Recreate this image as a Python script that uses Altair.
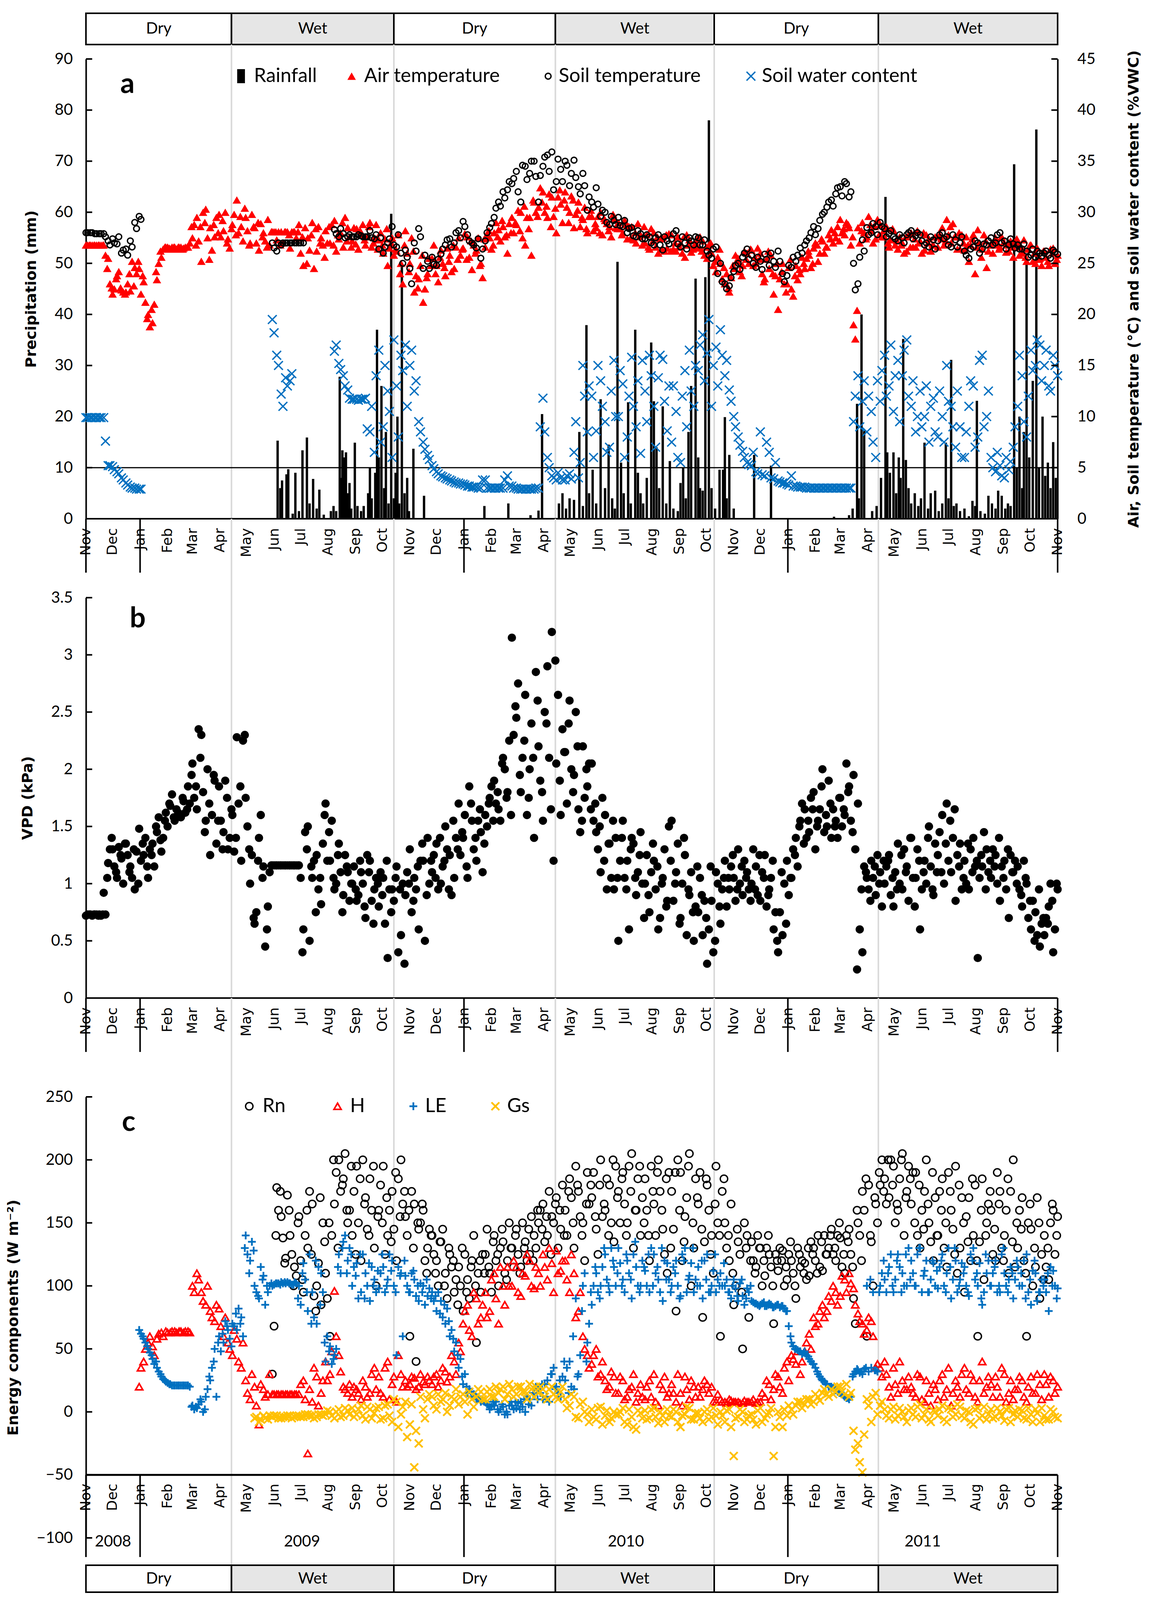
import altair as alt
import pandas as pd
from datetime import date

START = date(2008, 11, 1)


def day_of(y, m, d):
    return (date(y, m, d) - START).days


N_DAYS = day_of(2011, 11, 1)
STEP = 5      # "*_a" read at days 0,5,10,... ; "*_b" at days 2,7,12,... ; "*_c" at days 4,9,14,...
OFFSET_B = 2
OFFSET_C = 4

# ---------------- categories / labels ----------------
season_names = ["Dry", "Wet", "Dry", "Wet", "Dry", "Wet"]
season_starts = ["2008-11-01", "2009-04-14", "2009-10-14", "2010-04-14", "2010-10-10", "2011-04-13"]
month_labels = ["Nov", "Dec", "Jan", "Feb", "Mar", "Apr", "May", "Jun", "Jul", "Aug", "Sep", "Oct"] * 3 + ["Nov"]
year_labels = ["2008", "2009", "2010", "2011"]
ticks_a_left = [0, 10, 20, 30, 40, 50, 60, 70, 80, 90]
ticks_a_right = [0, 5, 10, 15, 20, 25, 30, 35, 40, 45]
ticks_b = [0, 0.5, 1, 1.5, 2, 2.5, 3, 3.5]
ticks_c = [-100, -50, 0, 50, 100, 150, 200, 250]
ref_line_mm = [10]

# ---------------- panel a ----------------
air_a = [
    26.8, 26.8, 26.8, 26.8, 26.8, 25.5, 22.0, 23.8, 22.4, 22.2, 22.3, 24.6,
    24.5, 23.2, 20.0, 19.2, 23.4, 25.6, 26.6, 26.4, 26.6, 26.6, 26.5, 26.6,
    27.5, 29.5, 25.2, 30.3, 28.5, 27.6, 29.8, 28.2, 27.4, 28.8, 31.2, 28.6,
    29.5, 27.0, 28.5, 26.3, 28.0, 29.3, 28.1, 27.3, 28.1, 28.1, 26.5, 28.1,
    28.8, 24.8, 27.5, 29.0, 26.2, 27.5, 28.2, 27.0, 29.2, 27.4, 26.6, 28.5,
    27.2, 28.4, 27.8, 26.8, 29.0, 27.5, 27.3, 26.0, 24.8, 27.5, 26.2, 25.0,
    28.2, 25.0, 22.2, 23.5, 21.2, 24.0, 25.5, 24.8, 26.3, 23.8, 25.8, 24.5,
    27.5, 26.5, 27.6, 24.4, 26.3, 25.0, 26.6, 27.5, 28.0, 28.3, 28.6, 26.0,
    29.5, 28.8, 30.0, 26.8, 29.5, 31.0, 30.5, 32.0, 29.5, 31.5, 28.0, 30.8,
    32.0, 30.0, 28.5, 31.0, 29.3, 28.0, 29.6, 28.5, 30.0, 29.2, 28.6, 29.4,
    29.0, 28.0, 27.4, 28.6, 27.0, 27.8, 27.0, 26.4, 28.0, 26.0, 27.5, 26.5,
    27.8, 26.2, 27.0, 25.6, 27.3, 26.6, 26.5, 27.2, 25.5, 26.0, 24.2, 25.0,
    23.0, 22.2, 24.5, 25.5, 24.8, 26.0, 26.3, 25.0, 26.0, 23.5, 24.5, 22.0,
    20.5, 25.0, 23.0, 22.5, 24.8, 24.0, 24.5, 25.8, 26.5, 25.2, 27.2, 26.6,
    28.3, 27.5, 29.3, 27.8, 28.5, 19.0, 28.5, 29.0, 27.6, 28.2, 27.4, 28.8,
    27.6, 26.6, 28.2, 26.4, 27.0, 26.2, 28.0, 26.6, 27.2, 26.3, 27.4, 26.8,
    26.6, 28.5, 29.3, 27.0, 27.6, 26.4, 26.3, 25.2, 27.8, 28.3, 26.4, 24.6,
    26.8, 27.5, 26.6, 27.0, 26.2, 25.6, 27.0, 26.0, 25.2, 26.8, 25.0, 25.5,
    26.2, 24.8, 26.5, 25.8]
air_b = [
    26.8, 26.8, 26.8, 26.8, 25.8, 23.0, 22.5, 24.2, 22.2, 23.0, 25.2, 24.0,
    22.0, 21.2, 18.8, 21.0, 25.0, 26.4, 26.6, 26.6, 26.4, 26.6, 26.6, 27.0,
    28.8, 27.2, 30.0, 27.5, 26.3, 29.5, 27.6, 30.0, 26.5, 29.8, 28.0, 27.2,
    28.2, 29.8, 27.0, 28.9, 27.2, 26.8, 28.1, 28.1, 27.0, 28.1, 28.1, 27.5,
    26.0, 28.5, 26.3, 24.5, 28.6, 26.8, 27.0, 28.8, 26.2, 28.0, 29.5, 27.6,
    28.5, 26.4, 28.8, 27.6, 26.6, 28.8, 28.0, 27.4, 26.5, 25.8, 27.8, 23.0,
    26.0, 27.5, 23.8, 24.8, 22.5, 25.5, 26.8, 23.2, 25.0, 26.5, 24.2, 26.6,
    25.8, 27.9, 25.6, 26.8, 27.5, 23.6, 27.8, 26.4, 29.0, 27.2, 27.6, 28.9,
    28.0, 30.2, 27.5, 29.5, 25.8, 30.0, 32.4, 30.0, 31.8, 29.6, 31.5, 29.0,
    30.5, 31.6, 29.8, 28.6, 30.5, 29.6, 28.2, 29.6, 27.8, 28.9, 27.6, 28.5,
    28.4, 29.2, 28.6, 27.3, 28.9, 26.8, 27.8, 28.4, 26.6, 27.4, 26.2, 27.9,
    26.4, 27.6, 26.0, 27.8, 26.1, 27.0, 27.6, 25.8, 26.8, 24.8, 25.6, 23.5,
    24.0, 23.6, 25.8, 24.2, 26.2, 25.0, 24.8, 26.5, 24.0, 25.4, 25.8, 23.8,
    23.5, 23.0, 24.6, 21.8, 23.4, 25.6, 25.5, 24.6, 27.0, 26.0, 26.0, 27.8,
    27.0, 28.6, 28.0, 29.0, 26.8, 17.6, 27.0, 28.0, 29.6, 27.0, 29.3, 27.6,
    28.6, 27.3, 26.8, 27.6, 26.0, 27.8, 26.6, 28.2, 26.0, 27.8, 26.2, 27.6,
    27.8, 26.8, 27.8, 28.9, 26.4, 27.8, 27.6, 26.8, 24.0, 27.0, 27.8, 26.2,
    26.0, 26.8, 27.6, 26.1, 27.2, 26.8, 25.8, 27.3, 26.4, 25.2, 26.5, 24.8,
    25.6, 26.4, 25.0]
air_c = [
    26.8, 26.8, 26.8, 26.8, 24.5, 22.6, 23.5, 22.6, 22.0, 24.0, 22.8, 25.2,
    23.8, 19.6, 20.5, 24.2, 26.2, 26.6, 26.5, 26.6, 26.6, 26.4, 26.6, 28.6,
    26.8, 28.6, 29.0, 25.4, 28.8, 28.0, 29.2, 27.0, 28.4, 27.8, 29.6, 30.4,
    26.8, 28.6, 29.0, 27.6, 26.6, 28.1, 28.1, 26.8, 28.1, 27.8, 28.1, 28.1,
    27.6, 25.0, 27.8, 28.4, 27.0, 25.6, 28.6, 26.8, 27.8, 29.0, 27.2, 26.6,
    26.9, 28.2, 27.3, 28.6, 27.0, 26.4, 26.8, 28.4, 27.0, 26.4, 24.0, 26.8,
    24.2, 26.2, 22.6, 25.8, 23.6, 24.8, 24.0, 25.6, 24.6, 25.2, 26.8, 25.4,
    26.4, 25.4, 27.2, 26.0, 24.8, 27.4, 28.2, 26.8, 27.6, 29.2, 27.8, 28.0,
    29.0, 28.2, 30.6, 28.4, 31.2, 29.6, 31.0, 30.6, 28.6, 30.4, 32.2, 31.2,
    29.0, 31.2, 30.2, 29.5, 28.4, 30.2, 28.9, 28.0, 29.4, 28.2, 29.8, 28.4,
    27.8, 28.8, 27.5, 28.0, 27.6, 28.6, 26.6, 27.2, 27.6, 26.4, 27.8, 26.2,
    27.0, 26.6, 27.6, 26.8, 26.4, 27.4, 26.2, 26.6, 27.0, 25.2, 26.4, 24.6,
    22.6, 24.8, 25.2, 23.8, 25.4, 26.4, 25.6, 25.4, 23.2, 26.2, 24.0, 25.0,
    24.2, 22.2, 25.4, 23.8, 24.4, 25.0, 26.2, 25.0, 26.8, 27.4, 26.6, 27.4,
    28.0, 27.2, 28.4, 28.8, 27.6, 20.4, 28.2, 27.4, 28.8, 28.6, 27.8, 28.2,
    27.0, 28.4, 27.2, 26.8, 27.6, 26.6, 27.4, 27.0, 28.0, 27.0, 26.8, 27.6,
    27.4, 27.2, 28.6, 27.6, 28.0, 27.0, 26.8, 27.4, 26.6, 25.6, 27.2, 26.8,
    27.2, 26.4, 27.0, 26.8, 26.6, 27.4, 26.6, 25.6, 26.8, 26.0, 25.4, 26.2,
    25.2, 26.0, 25.4]

N6 = [None] * 6
soil_a = [
    28.0, 28.0, 27.9, 27.9, 27.9, 27.2, 27.4, 26.9, 26.0, 26.4, 27.2, 29.0,
    29.6, None, None, None, None, None] + N6 * 4 + [
    27.0, 26.2, 26.8, 27.0, 27.0, 27.0, 27.0, 27.0, None, None, None, None,
    None, None, 28.3, 27.6, 27.9, 27.6, 27.6, 27.6, 27.7, 27.6, 28.2, 27.4,
    26.4, 26.0, 27.0, 28.6, 26.6, 26.0, 26.3, 24.5, 27.0, 28.4, 24.5, 25.2,
    25.6, 24.8, 25.9, 26.8, 27.4, 27.0, 28.2, 29.1, 27.8, 27.0, 26.5, 25.5,
    27.2, 28.5, 29.5, 31.0, 32.0, 32.2, 32.8, 34.0, 31.0, 34.5, 33.8, 35.0,
    31.0, 34.5, 35.6, 35.9, 33.0, 34.2, 35.0, 32.6, 35.1, 32.5, 33.8, 30.2,
    31.0, 32.4, 29.6, 30.0, 28.8, 29.2, 29.5, 28.6, 28.0, 28.5, 27.6, 27.9,
    27.4, 27.6, 26.8, 27.8, 26.3, 27.2, 27.4, 28.2, 26.6, 27.0, 27.5, 26.8,
    27.5, 26.8, 26.2, 25.5, 26.6, 25.0, 23.0, 22.8, 24.2, 25.0, 25.6, 26.4,
    25.8, 24.6, 25.2, 25.9, 24.8, 25.2, 26.2, 24.0, 23.8, 24.6, 25.2, 26.5,
    26.8, 27.5, 28.6, 28.4, 29.8, 30.5, 31.2, 31.8, 32.5, 33.0, 31.5, 25.0,
    23.0, 27.3, 28.5, 28.0, 28.6, 29.0, 28.4, 27.9, 27.6, 27.2, 27.5, 27.8,
    28.2, 27.7, 27.8, 26.8, 26.6, 27.3, 27.2, 28.0, 27.6, 26.6, 27.3, 27.0,
    26.2, 25.5, 26.6, 27.0, 26.4, 26.8, 27.5, 27.0, 28.0, 27.2, 26.8, 26.9,
    26.8, 26.4, 26.2, 25.8, 25.6, 26.0, 26.0, 25.8, 26.3, 25.9]
soil_b = [
    28.0, 28.0, 27.9, 27.9, 27.6, 26.8, 27.0, 27.6, 26.3, 25.8, 26.6, 28.4,
    29.3, None, None, None, None, None] + N6 * 4 + [
    26.5, 27.0, 27.0, 27.0, 27.0, 27.0, 27.0, None, None, None, None, None,
    None, None, 27.9, 28.4, 27.5, 27.8, 27.6, 27.8, 27.6, 27.6, 27.5, 27.8,
    27.5, 26.6, 27.4, 26.8, 27.8, 25.0, 25.6, 23.0, 26.2, 27.6, 25.8, 24.5,
    24.9, 25.4, 26.4, 27.3, 26.6, 28.0, 27.5, 28.6, 27.2, 26.8, 27.4, 26.4,
    28.0, 28.9, 30.4, 30.6, 31.4, 33.0, 33.3, 32.0, 34.6, 33.2, 35.0, 33.5,
    33.6, 35.4, 34.0, 32.2, 35.2, 33.0, 34.6, 33.8, 33.4, 31.8, 32.6, 31.5,
    30.5, 30.8, 30.2, 29.0, 29.6, 28.8, 28.7, 29.2, 28.4, 27.7, 28.2, 27.4,
    27.8, 27.0, 27.5, 26.8, 27.6, 26.9, 27.9, 26.9, 27.6, 26.4, 27.2, 27.6,
    26.8, 27.3, 25.8, 26.4, 24.0, 23.2, 22.5, 23.6, 24.8, 24.4, 26.0, 25.4,
    25.0, 25.6, 24.4, 25.4, 26.0, 24.6, 25.2, 23.2, 24.8, 25.6, 25.8, 26.0,
    27.2, 28.0, 27.8, 29.2, 30.0, 31.0, 30.6, 32.4, 31.6, 32.8, 32.0, 22.4,
    25.6, 26.2, 27.8, 28.9, 27.8, 28.6, 27.6, 28.2, 27.4, 27.8, 27.0, 28.0,
    27.4, 28.0, 27.2, 27.0, 27.6, 26.4, 27.8, 27.4, 26.8, 27.8, 26.6, 27.6,
    25.8, 26.4, 27.2, 26.0, 26.9, 27.2, 26.8, 27.8, 27.0, 26.4, 27.4, 26.5,
    26.4, 26.9, 25.6, 26.4, 26.2, 25.7, 26.2, 25.5, 26.1]

swc_a = [
    9.9, 9.9, 9.9, 9.9, 9.9, 5.2, 5.1, 4.6, 4.0, 3.5, 3.1, 3.0,
    2.9, None, None, None, None, None] + N6 * 4 + [
    19.5, 16.0, 12.2, 13.8, 13.5, None] + N6 + [
    None, None, 16.4, 15.2, 14.0, 12.6, 11.7, 11.7, 11.7, 11.8, 8.5, 6.5,
    16.5, 9.0, 12.5, 6.0, 13.0, 16.0, 17.0, 15.0, 12.5, 9.5, 7.5, 6.2,
    5.2, 4.6, 4.2, 4.0, 3.8, 3.6, 3.5, 3.4, 3.2, 3.1, 3.1, 3.0,
    3.8, 3.0, 3.0, 3.0, 3.0, 4.2, 3.2, 3.0, 2.9, 2.9, 2.9, 2.9,
    3.0, 11.8, 6.0, 4.2, 3.8, 4.0, 3.8, 4.4, 6.5, 4.0, 15.0, 8.5,
    12.0, 8.6, 13.5, 9.5, 7.0, 15.5, 10.0, 13.2, 8.0, 15.8, 9.0, 6.4,
    12.5, 16.0, 11.0, 13.8, 15.6, 8.6, 7.5, 10.5, 5.5, 14.5, 16.5, 11.0,
    14.5, 18.0, 16.2, 11.0, 16.8, 18.5, 14.0, 12.6, 10.0, 8.0, 6.6, 5.5,
    5.2, 4.6, 8.5, 4.2, 6.5, 3.9, 3.7, 3.5, 3.4, 4.2, 3.2, 3.1,
    3.1, 3.0, 3.0, 3.0, 3.0, 3.0, 3.0, 3.0, 3.0, 3.0, 3.0, 9.5,
    14.0, 11.5, 8.5, 10.5, 6.0, 11.5, 16.0, 13.0, 10.5, 15.5, 14.0, 17.5,
    11.0, 8.5, 12.5, 10.0, 7.5, 11.8, 8.0, 10.0, 15.0, 11.0, 7.0, 9.0,
    6.0, 11.0, 13.0, 8.0, 16.0, 10.0, 6.0, 4.6, 5.2, 4.0, 4.8, 7.0,
    11.0, 14.0, 8.0, 16.5, 15.0, 17.0, 15.0, 13.0, 16.0, 14.0]
swc_b = [
    9.9, 9.9, 9.9, 9.9, 7.6, 5.2, 4.8, 4.4, 3.8, 3.3, 3.0, 2.9,
    2.9, None, None, None, None, None] + N6 * 4 + [
    18.2, 15.0, 11.0, 13.0, 14.2, None] + N6 + [
    None, None, 17.0, 14.6, 13.0, 11.8, 11.7, 11.6, 11.7, 8.8, 11.0, 14.0,
    7.5, 15.0, 10.5, 17.5, 8.0, 14.5, 11.0, 16.5, 13.5, 8.5, 6.8, 5.8,
    4.9, 4.4, 4.1, 3.9, 3.7, 3.5, 3.4, 3.3, 3.2, 3.1, 3.0, 3.8,
    3.0, 3.0, 3.0, 3.0, 3.8, 3.2, 3.0, 2.9, 2.9, 2.9, 2.9, 3.0,
    9.0, 8.5, 5.0, 4.0, 4.5, 3.8, 4.2, 3.9, 9.5, 5.5, 12.0, 13.0,
    6.0, 15.0, 11.0, 6.5, 12.5, 10.0, 14.5, 6.0, 12.0, 11.0, 13.5, 15.5,
    9.5, 14.0, 7.0, 16.0, 11.5, 13.0, 13.0, 6.0, 12.0, 9.0, 12.5, 15.0,
    17.0, 13.5, 19.5, 15.0, 13.0, 16.0, 15.5, 11.5, 9.0, 7.2, 6.0, 5.3,
    6.5, 4.4, 4.3, 7.5, 4.0, 5.5, 3.6, 3.5, 3.3, 3.2, 3.1, 3.1,
    3.0, 3.0, 3.0, 3.0, 3.0, 3.0, 3.0, 3.0, 3.0, 3.0, 3.0, 12.0,
    9.0, 13.5, 12.0, 7.5, 13.5, 14.5, 12.0, 17.0, 14.0, 9.5, 16.5, 12.0,
    13.5, 10.0, 9.0, 13.0, 11.0, 8.5, 12.5, 7.5, 11.5, 9.0, 12.5, 6.0,
    8.5, 13.5, 7.0, 15.5, 9.0, 12.5, 5.0, 6.5, 4.2, 6.0, 5.6, 9.0,
    16.0, 9.5, 12.0, 14.5, 17.5, 13.5, 16.5, 12.5, 15.0]

# rainfall: day number since 1 Nov 2008, mm
rain_day = [
    216, 219, 221, 226, 228, 233, 236, 240, 244, 249, 252, 256, 260, 263, 268, 276, 279, 282,
    286, 288, 289, 291, 293, 295, 297, 299, 303, 306, 310, 313, 318, 320, 322, 326, 328, 330,
    333, 336, 338, 341, 344, 347, 349, 351, 353, 356, 359, 362, 364, 369, 381, 449, 476, 501,
    510, 514, 533, 537, 541, 545, 550, 556, 560, 564, 567, 571, 575, 580, 585, 589, 593, 596,
    599, 603, 606, 611, 614, 619, 622, 625, 628, 632, 637, 640, 643, 646, 650, 654, 658, 662,
    667, 670, 673, 676, 679, 682, 687, 690, 692, 695, 698, 702, 705, 709, 714, 718, 720, 722,
    725, 730, 753, 772, 843, 860, 864, 869, 871, 874, 877, 886, 891, 896, 901, 903, 906, 910,
    913, 916, 918, 921, 924, 927, 930, 934, 938, 941, 945, 949, 952, 957, 961, 965, 969, 972,
    975, 978, 981, 985, 990, 995, 999, 1002, 1004, 1008, 1013, 1017, 1021, 1025, 1028, 1032,
    1036, 1039, 1042, 1046, 1049, 1052, 1055, 1057, 1060, 1063, 1067, 1071, 1074, 1078, 1081,
    1084, 1087, 1090, 1093]
rain_mm = [
    15.3, 6.0, 7.5, 8.7, 9.7, 1.0, 9.0, 1.5, 13.4, 15.9, 3.0, 7.8, 2.0, 5.7, 0.8, 1.5, 2.5, 1.5,
    27.8, 8.0, 13.4, 12.0, 13.0, 5.0, 7.0, 2.0, 14.9, 2.5, 1.5, 2.5, 5.0, 10.0, 4.0, 9.0, 37.0, 12.0,
    26.0, 6.0, 17.0, 3.0, 59.7, 4.0, 9.0, 20.0, 3.0, 49.4, 5.0, 8.0, 1.5, 13.7, 4.5, 2.5, 3.0, 0.7,
    1.6, 20.5, 3.0, 5.0, 2.0, 4.0, 3.7, 17.0, 2.5, 37.9, 5.0, 9.6, 3.0, 23.4, 6.0, 14.5, 4.0, 2.0,
    50.3, 11.0, 5.0, 22.8, 3.0, 37.0, 9.0, 5.0, 3.0, 8.0, 34.5, 23.0, 14.0, 6.0, 22.0, 3.0, 11.3, 2.0,
    1.5, 7.0, 10.0, 4.0, 17.0, 26.0, 47.0, 12.0, 6.0, 5.5, 47.3, 78.0, 6.0, 2.0, 9.6, 9.6, 19.9, 4.0,
    12.5, 2.0, 12.5, 10.4, 0.4, 0.7, 2.0, 22.5, 4.0, 40.0, 17.2, 1.5, 2.5, 8.0, 63.0, 13.0, 9.0, 13.0,
    5.0, 12.0, 8.0, 35.2, 11.5, 6.0, 3.0, 5.0, 2.5, 4.0, 14.9, 2.0, 5.0, 5.5, 1.5, 3.0, 14.9, 4.0,
    31.1, 2.5, 3.0, 1.5, 2.0, 0.5, 3.5, 2.5, 23.1, 1.5, 1.0, 4.5, 3.0, 2.0, 5.5, 4.5,
    2.0, 3.0, 2.5, 69.4, 10.0, 20.0, 6.0, 17.0, 50.9, 12.0, 27.0, 76.2, 10.0, 20.0, 8.4,
    11.0, 6.0, 15.0, 8.0]

# ---------------- panel b ----------------
vpd_a = [
    0.72, 0.73, 0.73, 0.73, 0.92, 1.18, 1.30, 1.05, 1.22, 1.35, 1.15, 0.95,
    1.48, 1.25, 1.05, 1.35, 1.45, 1.28, 1.62, 1.68, 1.55, 1.60, 1.72, 1.85,
    2.05, 1.65, 2.30, 1.55, 1.25, 1.90, 1.85, 1.45, 1.30, 1.60, 2.28, 1.20,
    1.75, 1.00, 0.65, 1.40, 1.15, 0.80, 1.16, 1.16, 1.16, 1.16, 1.16, 1.16,
    1.16, 0.60, 1.50, 1.05, 1.25, 0.82, 1.70, 1.20, 0.95, 1.35, 0.90, 1.10,
    1.00, 0.85, 1.10, 0.70, 1.20, 0.95, 0.80, 1.05, 0.35, 0.95, 1.15, 0.55,
    0.90, 1.30, 1.05, 0.60, 1.20, 1.40, 1.10, 1.35, 1.00, 1.50, 1.25, 1.05,
    1.70, 1.40, 1.05, 1.55, 1.20, 1.45, 1.60, 1.75, 1.90, 1.65, 2.10, 1.80,
    3.15, 2.45, 1.80, 2.65, 2.00, 1.40, 2.20, 1.55, 2.90, 3.20, 2.05, 1.60,
    2.15, 2.60, 1.95, 1.65, 2.20, 1.85, 2.05, 1.45, 1.10, 1.60, 1.35, 0.95,
    0.50, 1.55, 1.20, 1.40, 0.90, 1.45, 1.00, 0.75, 1.20, 0.60, 1.05, 0.85,
    1.55, 1.10, 0.70, 1.25, 0.90, 0.50, 0.75, 0.55, 0.30, 0.85, 1.10, 0.65,
    1.20, 0.95, 1.05, 1.30, 0.90, 1.10, 1.00, 1.15, 0.85, 1.25, 0.95, 0.60,
    0.40, 0.55, 1.20, 1.05, 1.40, 1.55, 1.65, 1.45, 1.80, 1.55, 2.00, 1.50,
    1.40, 1.55, 1.75, 1.60, 1.85, 1.95, 1.70, 0.40, 1.05, 1.20, 0.90, 1.10,
    1.00, 1.25, 0.80, 1.35, 0.95, 1.15, 1.40, 1.05, 0.60, 1.20, 1.50, 0.90,
    1.25, 1.60, 1.70, 1.10, 0.85, 1.35, 1.20, 0.95, 1.40, 0.35, 1.15, 1.30,
    1.05, 1.25, 0.85, 1.20, 0.70, 1.10, 1.15, 0.80, 1.00, 0.60, 0.75, 0.45,
    0.55, 0.80, 0.40, 0.95]
vpd_b = [
    0.73, 0.72, 0.73, 0.72, 0.73, 1.30, 1.15, 1.32, 1.00, 1.25, 1.05, 1.28,
    1.20, 1.40, 1.30, 1.15, 1.58, 1.40, 1.50, 1.78, 1.65, 1.58, 1.62, 1.70,
    1.75, 2.35, 1.80, 2.00, 1.60, 1.35, 1.55, 1.90, 1.40, 1.28, 1.70, 2.25,
    1.50, 1.25, 0.75, 1.60, 0.45, 1.10, 1.16, 1.16, 1.16, 1.16, 1.16, 1.16,
    1.05, 1.45, 0.50, 1.20, 0.95, 1.35, 1.20, 1.55, 1.00, 1.10, 1.25, 0.85,
    1.15, 0.90, 1.00, 1.25, 0.85, 1.05, 1.10, 0.65, 0.95, 0.85, 0.40, 1.00,
    1.10, 0.75, 0.95, 1.20, 0.50, 1.00, 1.25, 0.95, 1.15, 1.30, 0.90, 1.40,
    1.25, 1.60, 1.85, 1.30, 1.55, 1.10, 1.50, 1.85, 1.70, 1.55, 2.00, 2.25,
    2.30, 2.75, 2.10, 1.60, 2.40, 2.85, 1.90, 2.50, 2.10, 1.20, 2.65, 2.35,
    1.70, 2.00, 2.50, 1.45, 1.75, 2.05, 1.55, 1.30, 1.75, 0.95, 1.05, 1.40,
    1.20, 1.05, 0.60, 1.35, 1.10, 1.00, 1.25, 1.10, 0.95, 0.70, 1.30, 1.50,
    0.85, 1.35, 1.00, 0.55, 1.10, 0.80, 1.05, 0.85, 0.60, 0.40, 1.00, 0.95,
    0.80, 1.15, 0.85, 1.00, 1.20, 0.95, 1.30, 0.90, 1.10, 0.80, 1.05, 0.75,
    0.75, 1.00, 0.90, 1.30, 1.15, 1.70, 1.40, 1.75, 1.30, 1.65, 1.45, 1.90,
    1.65, 1.40, 1.50, 2.05, 1.55, 1.30, 0.60, 1.15, 0.95, 1.05, 1.25, 0.80,
    1.15, 0.90, 1.10, 1.00, 1.30, 0.85, 1.05, 1.30, 0.95, 1.00, 1.15, 1.35,
    1.45, 1.00, 1.20, 1.40, 1.25, 0.95, 1.00, 1.30, 1.15, 1.05, 1.45, 1.10,
    1.30, 1.00, 1.15, 0.95, 1.25, 1.20, 0.95, 1.20, 0.70, 0.85, 0.55, 0.65,
    0.70, 1.00, 0.60]
vpd_c = [
    0.73, 0.73, 0.72, 0.73, 1.05, 1.40, 1.10, 1.25, 1.35, 1.10, 1.30, 1.00,
    1.35, 1.15, 1.25, 1.50, 1.38, 1.55, 1.70, 1.58, 1.62, 1.75, 1.65, 1.95,
    1.85, 2.10, 1.45, 1.70, 1.95, 1.55, 1.30, 1.75, 1.65, 1.40, 1.85, 2.30,
    1.30, 0.70, 1.20, 1.05, 0.60, 1.16, 1.16, 1.16, 1.16, 1.16, 1.16, 1.16,
    0.40, 1.30, 1.15, 0.75, 1.05, 1.60, 1.45, 1.05, 1.25, 0.75, 1.15, 1.00,
    0.95, 1.20, 0.80, 1.10, 0.65, 1.00, 0.90, 1.20, 0.75, 1.05, 0.95, 0.30,
    1.00, 0.85, 1.15, 1.35, 0.90, 1.20, 1.05, 1.40, 1.20, 0.95, 1.55, 1.30,
    1.45, 1.15, 1.70, 1.40, 1.65, 1.35, 1.70, 1.55, 1.80, 2.05, 1.75, 1.60,
    2.55, 1.95, 2.25, 1.75, 2.10, 2.60, 1.80, 2.40, 1.65, 2.95, 1.90, 2.15,
    2.40, 1.80, 2.20, 1.55, 2.00, 1.65, 1.70, 1.50, 1.20, 1.35, 1.55, 1.05,
    1.40, 0.95, 1.30, 1.05, 1.25, 0.70, 0.90, 1.35, 1.15, 1.00, 0.80, 1.20,
    1.00, 0.65, 1.40, 0.95, 0.75, 1.15, 0.90, 0.70, 1.15, 0.50, 0.80, 1.05,
    1.05, 1.25, 0.95, 1.15, 1.05, 0.85, 0.95, 1.25, 1.05, 0.90, 1.20, 0.50,
    1.10, 0.65, 1.05, 1.25, 1.50, 1.35, 1.55, 1.65, 1.50, 1.85, 1.60, 1.70,
    1.50, 1.75, 1.65, 1.80, 1.45, 0.25, 0.95, 1.10, 0.85, 1.15, 1.00, 1.20,
    1.20, 1.05, 0.95, 1.25, 1.10, 1.40, 0.80, 1.20, 1.10, 1.40, 0.95, 1.10,
    1.10, 1.35, 1.55, 1.65, 1.15, 1.05, 1.35, 1.10, 1.20, 1.25, 0.95, 1.20,
    1.15, 1.40, 1.05, 1.30, 1.10, 1.00, 0.90, 1.05, 0.85, 0.50, 0.95, 0.70,
    0.65, 0.85, 1.00]

# ---------------- panel c ----------------
rn_a = [None] * 42 + [
    30, 178, 155, 122, 140, 115, 155, 95, 130, 165, 100, 85,
    110, 60, 165, 200, 185, 150, 140, 195, 120, 170, 185, 130,
    160, 195, 140, 175, 120, 200, 155, 60, 165, 145, 160, 130,
    140, 120, 135, 110, 125, 95, 115, 80, 105, 120, 55, 95,
    125, 110, 140, 100, 135, 120, 130, 145, 115, 135, 125, 140,
    150, 165, 140, 155, 170, 145, 160, 185, 130, 175, 150, 190,
    170, 145, 200, 160, 180, 135, 175, 190, 150, 205, 160, 140,
    185, 120, 165, 200, 145, 110, 175, 80, 190, 155, 205, 130,
    165, 75, 180, 140, 195, 60, 150, 120, 85, 135, 50, 140,
    135, 115, 130, 108, 125, 70, 112, 128, 105, 120, 90, 115,
    118, 108, 130, 140, 112, 125, 145, 120, 138, 110, 145, 90,
    150, 175, 60, 135, 165, 180, 185, 170, 195, 160, 205, 175,
    165, 190, 130, 175, 150, 120, 140, 185, 115, 160, 195, 130,
    95, 170, 140, 60, 185, 150, 160, 120, 175, 140, 110, 200,
    130, 170, 60, 145, 115, 90, 140, 105, 160, 155]
rn_b = [None] * 42 + [
    68, 160, 138, 172, 125, 108, 120, 140, 175, 92, 118, 150,
    90, 140, 190, 175, 205, 160, 175, 150, 200, 145, 160, 100,
    180, 125, 160, 145, 185, 165, 140, 175, 40, 150, 120, 145,
    125, 100, 145, 90, 115, 105, 100, 125, 90, 140, 110, 125,
    145, 95, 120, 130, 110, 150, 115, 125, 150, 120, 155, 130,
    160, 135, 175, 150, 130, 180, 140, 170, 195, 155, 120, 165,
    190, 125, 155, 185, 150, 195, 150, 165, 195, 130, 185, 170,
    160, 195, 140, 175, 125, 190, 145, 200, 120, 170, 100, 185,
    190, 135, 160, 110, 150, 175, 130, 165, 100, 125, 150, 75,
    120, 140, 100, 130, 115, 125, 130, 100, 125, 110, 130, 120,
    105, 135, 120, 115, 140, 130, 125, 140, 115, 140, 125, 70,
    140, 160, 180, 100, 150, 200, 165, 200, 150, 185, 140, 195,
    190, 140, 160, 200, 135, 170, 175, 130, 190, 145, 110, 170,
    155, 120, 180, 135, 105, 165, 125, 190, 130, 160, 175, 115,
    160, 120, 150, 100, 170, 125, 115, 150, 125]
rn_c = [None] * 42 + [
    140, 175, 118, 160, 100, 150, 105, 160, 125, 80, 170, 135,
    150, 200, 130, 180, 160, 195, 125, 185, 165, 140, 195, 155,
    150, 170, 135, 190, 155, 175, 160, 130, 150, 165, 110, 140,
    110, 135, 100, 130, 120, 85, 130, 95, 115, 100, 120, 110,
    115, 135, 125, 145, 105, 130, 140, 110, 130, 145, 120, 160,
    145, 155, 125, 165, 160, 140, 175, 150, 180, 140, 165, 180,
    155, 180, 165, 140, 200, 170, 185, 140, 175, 160, 195, 150,
    140, 175, 190, 160, 185, 130, 190, 160, 135, 195, 150, 170,
    145, 185, 125, 165, 140, 185, 140, 110, 145, 95, 130, 120,
    110, 130, 120, 140, 100, 120, 120, 115, 135, 100, 125, 110,
    130, 125, 110, 135, 125, 140, 130, 150, 125, 135, 115, 160,
    120, 185, 140, 170, 190, 175, 200, 180, 165, 200, 170, 185,
    150, 180, 145, 165, 190, 140, 160, 150, 175, 125, 180, 150,
    135, 185, 120, 160, 140, 175, 145, 165, 120, 185, 135, 150,
    145, 110, 165, 130, 150, 105, 130, 165, 140]

h_a = [None] * 12 + [
    20, 40, 55, 52, 58, 63, 64, 63, 64, 64, 63, 64,
    100, 110, 95, 85, 80, 72, 82, 60, 55, 45, 58, 35,
    25, 10, 20, -10, 18, 14, 14, 14, 14, 14, 14, 14,
    14, 25, -33, 8, 28, 15, 40, 30, 96, 45, 20, 15,
    12, 18, 10, 20, 15, 35, 28, 12, 40, 22, 8, 30,
    25, 22, 27, 20, 24, 28, 22, 30, 25, 32, 28, 40,
    55, 70, 85, 60, 90, 75, 95, 80, 110, 70, 100, 115,
    100, 115, 92, 108, 120, 98, 110, 125, 105, 118, 128, 112,
    120, 95, 110, 80, 60, 45, 38, 50, 30, 25, 20, 28,
    15, 25, 12, 20, 8, 22, 10, 25, 30, 5, 18, 12,
    22, 8, 15, 28, 10, 20, 20, 18, 22, 20, 8, 10,
    8, 10, 8, 8, 7, 8, 8, 7, 8, 12, 22, 18,
    28, 15, 40, 45, 38, 30, 48, 62, 75, 70, 85, 80,
    88, 95, 92, 105, 110, 98, 78, 70, 65, 72, 35, 35,
    40, 20, 35, 15, 25, 18, 20, 12, 28, 8, 15, 22,
    10, 30, 18, 5, 25, 12, 35, 15, 25, 8, 40, 20,
    22, 28, 12, 30, 15, 10, 18, 25, 8, 28, 15, 22,
    30, 12, 25, 20]
h_b = [None] * 12 + [
    35, 50, 60, 45, 62, 60, 63, 64, 63, 64, 64, 63,
    95, 105, 88, 100, 75, 85, 68, 75, 50, 65, 40, 55,
    15, 30, 5, 22, 12, 30, 14, 14, 14, 14, 14, 14,
    22, 10, 18, 35, 5, 25, 25, 48, 60, 32, 18, 22,
    20, 15, 25, 12, 30, 18, 15, 35, 10, 28, 45, 20,
    20, 28, 18, 30, 22, 25, 28, 20, 35, 24, 45, 30,
    48, 80, 65, 95, 70, 85, 75, 105, 90, 115, 85, 100,
    120, 95, 110, 125, 100, 115, 100, 115, 130, 95, 110, 120,
    105, 125, 75, 95, 50, 35, 45, 28, 40, 18, 32, 15,
    28, 10, 18, 30, 15, 12, 20, 12, 8, 22, 28, 15,
    15, 30, 5, 18, 25, 12, 12, 25, 15, 8, 14, 8,
    7, 9, 8, 7, 9, 8, 10, 8, 15, 25, 10, 30,
    20, 35, 25, 42, 48, 40, 55, 50, 68, 80, 75, 92,
    100, 85, 108, 95, 102, 85, 72, 62, 75, 60, 38, 28,
    30, 12, 22, 40, 18, 28, 15, 30, 10, 25, 5, 18,
    25, 12, 35, 15, 20, 30, 18, 30, 12, 25, 15, 28,
    12, 20, 35, 8, 25, 18, 28, 12, 20, 15, 30, 10,
    22, 28, 15]

le_a = [None] * 12 + [
    65, 58, 50, 42, 35, 28, 24, 22, 21, 21, 21, 21,
    5, 3, 8, 12, 25, 50, 60, 55, 65, 70, 65, 75,
    140, 120, 100, 90, 108, 95, 100, 102, 103, 102, 102, 103,
    100, 118, 80, 95, 70, 110, 40, 52, 45, 125, 135, 120,
    100, 118, 95, 110, 88, 105, 98, 115, 105, 120, 45, 110,
    108, 95, 105, 88, 100, 92, 95, 80, 88, 70, 60, 48,
    35, 22, 15, 12, 10, 8, 8, 2, 5, 0, 4, -2,
    5, 3, 8, 0, 10, 15, 18, 10, 25, 30, 20, 12,
    25, 40, 18, 30, 100, 55, 85, 110, 100, 125, 95, 115,
    130, 105, 120, 90, 115, 100, 112, 95, 125, 105, 88, 118,
    100, 120, 92, 130, 108, 95, 115, 90, 125, 100, 95, 110,
    100, 95, 105, 88, 92, 98, 88, 86, 85, 84, 86, 83,
    85, 84, 80, 55, 50, 48, 48, 42, 38, 30, 25, 22,
    20, 18, 15, 12, 10, 30, 33, 30, 100, 35, 33, 100,
    105, 115, 95, 125, 110, 100, 120, 100, 130, 112, 95, 118,
    98, 125, 110, 90, 120, 105, 115, 92, 130, 100, 85, 110,
    100, 120, 95, 110, 105, 90, 115, 100, 125, 85, 110, 95,
    105, 80, 112, 98]
le_b = [None] * 12 + [
    62, 55, 47, 38, 32, 26, 23, 21, 21, 21, 21, 20,
    2, 6, 0, 18, 35, 12, 48, 72, 58, 68, 82, 60,
    125, 135, 95, 115, 85, 100, 101, 102, 102, 103, 101, 102,
    85, 105, 125, 75, 115, 95, 60, 38, 50, 110, 140, 130,
    115, 90, 125, 100, 115, 95, 110, 95, 125, 100, 115, 60,
    100, 110, 92, 102, 85, 98, 88, 95, 75, 82, 65, 55,
    42, 30, 18, 14, 11, 9, 6, 4, 8, 2, -2, 5,
    2, 7, 4, 12, 5, 20, 15, 22, 8, 35, 15, 28,
    35, 20, 90, 45, 110, 70, 100, 95, 115, 105, 130, 100,
    118, 95, 110, 125, 100, 120, 100, 130, 110, 95, 120, 105,
    115, 100, 125, 95, 118, 105, 100, 120, 95, 112, 105, 100,
    105, 90, 98, 102, 85, 95, 87, 85, 86, 84, 85, 84,
    83, 82, 68, 52, 49, 46, 45, 40, 35, 28, 24, 20,
    19, 16, 14, 11, 12, 32, 31, 34, 32, 95, 32, 110,
    95, 125, 105, 115, 100, 130, 110, 125, 95, 120, 105, 100,
    115, 100, 130, 105, 95, 118, 100, 125, 105, 118, 95, 120,
    110, 95, 125, 100, 115, 105, 100, 120, 95, 112, 88, 105,
    95, 115, 100]
le_c = [None] * 12 + [
    60, 52, 45, 40, 30, 25, 22, 21, 21, 21, 21, 4,
    4, 10, 2, 28, 40, 55, 62, 68, 52, 78, 70, 130,
    110, 128, 92, 105, 100, 102, 102, 101, 103, 102, 101, 90,
    110, 95, 70, 120, 85, 55, 48, 42, 115, 130, 110, 125,
    108, 125, 90, 118, 100, 112, 125, 100, 112, 95, 108, 120,
    95, 112, 100, 95, 105, 90, 92, 78, 85, 72, 58, 45,
    28, 20, 16, 13, 10, 8, 5, 8, 2, 6, 0, 8,
    8, 2, 10, 6, 15, 10, 22, 12, 30, 18, 25, 40,
    15, 60, 28, 80, 40, 95, 115, 90, 130, 100, 120, 110,
    100, 125, 105, 135, 95, 115, 125, 100, 115, 130, 105, 95,
    110, 90, 120, 105, 130, 100, 120, 105, 95, 125, 100, 118,
    95, 100, 92, 105, 90, 100, 86, 84, 87, 85, 83, 85,
    84, 80, 60, 50, 48, 47, 44, 38, 32, 26, 22, 20,
    17, 15, 13, 11, 28, 34, 32, 35, 105, 33, 95, 120,
    110, 100, 120, 95, 125, 105, 100, 130, 108, 95, 120, 112,
    120, 95, 115, 130, 100, 110, 95, 120, 110, 90, 125, 100,
    115, 100, 130, 95, 110, 120, 110, 90, 105, 120, 95, 100,
    110, 100, 90]

gs_a = [None] * 36 + [
    None, None, -5, -8, -3, -6, -4, -3, -5, -4, -3, -4,
    -3, -4, -2, -3, -4, -2, -2, 0, -5, 2, -3, 1,
    3, -2, 5, -6, 2, -1, 4, -5, 6, -8, 8, -2,
    8, -10, -44, -25, 2, 10, 12, 2, 8, 15, 5, 10,
    6, 14, -2, 10, 12, 16, 10, 18, 12, 15, 20, 14,
    18, 14, 20, 16, 22, 12, 15, 18, 10, 20, 12, 16,
    10, 5, 12, -5, 8, -2, 2, -6, 4, -3, -8, 0,
    -2, 3, -10, -4, -14, -1, 1, -5, 3, -9, -3, 2,
    -4, 0, -12, -2, 3, -6, -1, -8, 2, -4, -3, 0,
    -8, 2, -35, -4, 0, -6, -2, -10, 3, -5, -1, -35,
    0, -12, -3, 2, 5, 8, 6, 10, 8, 12, 15, 14,
    18, 16, 20, 14, 12, -15, -25, -48, 10, -8, 15, 5,
    2, -5, 4, -3, 0, -8, 3, -4, 6, -2, -6, 1,
    -3, 5, -8, 2, -2, 4, -5, 0, -10, 3, -3, -6,
    2, -4, 0, -7, 3, -2, -4, 1, -6, -2, 2, -8,
    -3, -6, 0, -5]
gs_b = [None] * 36 + [
    None, None, -4, -6, -5, -3, -3, -5, -4, -3, -5, -3,
    -4, -2, -3, -5, -2, -3, 1, -3, 0, -4, 3, -2,
    -4, 2, -3, 4, -5, 3, -6, 5, -3, 10, -12, 4,
    -20, 6, -15, 12, -5, 14, 5, 14, 10, 0, 12, 18,
    12, 8, 16, 4, 18, 10, 16, 12, 20, 18, 10, 22,
    12, 20, 16, 10, 18, 20, 20, 12, 18, 14, 10, 20,
    3, 14, -4, 6, 0, -8, -4, 3, -10, 1, -5, -2,
    0, -8, 2, -12, 1, -5, -6, 2, -4, 0, -8, -3,
    2, -8, -3, 4, -6, -1, -5, 0, -6, 3, -10, -3,
    1, -12, -5, 2, -8, -3, -6, 1, -8, -2, 3, -12,
    -4, 2, 5, -2, 8, 3, 10, 6, 14, 9, 18, 12,
    14, 20, 16, 22, 15, -30, -40, -18, 5, 12, -2, 8,
    -3, 2, -6, 3, -4, 1, -2, 4, -5, 2, -8, 0,
    2, -6, 3, -4, 6, -3, 1, -8, 2, -5, 4, -2,
    -5, 3, -3, 2, -8, 1, 2, -5, 3, -8, -1, 3,
    -6, 2, -4]

# ---------------- tables ----------------
df_a = pd.DataFrame({"air": air_a, "soil": soil_a, "swc": swc_a, "vpd": vpd_a,
                     "rn": rn_a, "h": h_a, "le": le_a, "gs": gs_a})
df_a["day"] = [i * STEP for i in range(len(df_a))]
df_b = pd.DataFrame({"air": air_b, "soil": soil_b, "swc": swc_b, "vpd": vpd_b,
                     "rn": rn_b, "h": h_b, "le": le_b, "gs": gs_b})
df_b["day"] = [i * STEP + OFFSET_B for i in range(len(df_b))]
df_c = pd.DataFrame({"air": air_c, "vpd": vpd_c, "rn": rn_c, "le": le_c})
df_c["day"] = [i * STEP + OFFSET_C for i in range(len(df_c))]
ser_df = pd.concat([df_a, df_b, df_c], ignore_index=True)
rain_df = pd.DataFrame({"day": rain_day, "mm": rain_mm})


def iso_day(s):
    y, m, d = map(int, s.split("-"))
    return day_of(y, m, d)


s_start = [iso_day(s) for s in season_starts]
s_end = s_start[1:] + [N_DAYS]
season_df = pd.DataFrame({"name": season_names, "start": s_start, "end": s_end})
season_df["mid"] = (season_df["start"] + season_df["end"]) / 2
boundary_df = pd.DataFrame({"day": s_start[1:]})

m_days = []
yy, mm = 2008, 11
for _ in month_labels:
    m_days.append(day_of(yy, mm, 1))
    mm += 1
    if mm > 12:
        mm, yy = 1, yy + 1
month_df = pd.DataFrame({"day": m_days, "label": month_labels})

sep_df = pd.DataFrame({"day": [0] + [day_of(int(y), 1, 1) for y in year_labels[1:]] + [N_DAYS]})
y_mid = []
for y in year_labels:
    a = max(0, day_of(int(y), 1, 1))
    b = min(N_DAYS, day_of(int(y) + 1, 1, 1))
    y_mid.append((a + b) / 2)
year_df = pd.DataFrame({"day": y_mid, "label": year_labels})
one = pd.DataFrame({"k": [0]})

# ---------------- layout constants ----------------
VK = 0.933          # vertical fit factor so the whole figure stays inside the photographed area
W = 2487
LEFT_EXT = 212      # room left of the plot area (axis labels and titles)
RIGHT_EXT = 231     # room right of the plot area
H_BAND = round(86 * VK)
H_SP1 = round(40 * VK)
H_A = round(1261 * VK)
H_SA = round(217 * VK)
H_B = round(1099 * VK)
H_SB = round(271 * VK)
H_C = round(1210 * VK)
H_SP2 = round(75 * VK)
H_BAND2 = round(74 * VK)
PAD_TOP = round(34 * VK) - 8

RED = "#ff0000"
BLUE = "#0070c0"
YEL = "#ffc000"
GRAY = "#d9d9d9"
XPATH = "M-1,-1L1,1M-1,1L1,-1"
PLUS = "M-1,0L1,0M0,-1L0,1"
BAR_SHAPE = "M-0.55,-1L0.55,-1L0.55,1L-0.55,1Z"

XS = alt.Scale(domain=[0, N_DAYS], nice=False, zero=False)
X = alt.X("day:Q", scale=XS, axis=None)


def gray_rules():
    return alt.Chart(boundary_df).mark_rule(color=GRAY, strokeWidth=4).encode(x=X)


def band(h, extent=False):
    rect = alt.Chart(season_df).mark_rect(stroke="black", strokeWidth=4).encode(
        x=alt.X("start:Q", scale=XS, axis=None), x2="end:Q",
        y=alt.value(0), y2=alt.value(h),
        fill=alt.Fill("name:N", scale=alt.Scale(domain=["Dry", "Wet"], range=["#ffffff", "#e6e6e6"]),
                      legend=None))
    txt = alt.Chart(season_df).mark_text(font="Lato", fontSize=40, color="black", baseline="middle").encode(
        x=alt.X("mid:Q", scale=XS, axis=None), y=alt.value(h / 2), text="name:N")
    layers = [rect, txt]
    if extent:
        # invisible guide that fixes the total drawing width
        layers.append(alt.Chart(one).mark_rule(strokeOpacity=0, color="white").encode(
            x=alt.value(-LEFT_EXT), x2=alt.value(W + RIGHT_EXT), y=alt.value(h / 2)))
    return alt.layer(*layers).properties(width=W, height=h)


def leg_mark(x, y, **kw):
    return alt.Chart(one).mark_point(**kw).encode(x=alt.value(x), y=alt.value(y))


def leg_text(x, y, t, size=50, bold=False):
    return alt.Chart(one).mark_text(text=t, font="Lato", fontSize=size, align="left", baseline="middle",
                                    color="black", fontWeight="bold" if bold else "normal").encode(
        x=alt.value(x), y=alt.value(y))


def axis_left(values, title, pad, fmt=None):
    kw = dict(values=values, title=title, ticks=False, grid=False, domainWidth=4, domainColor="black",
              labelPadding=34, titlePadding=pad)
    if fmt:
        kw["format"] = fmt
    return alt.Axis(**kw)


def in_ticks(values, field_scale, axis, right=False):
    x1, x2 = (W - 16, W) if right else (0, 16)
    return alt.Chart(pd.DataFrame({"v": values})).mark_rule(color="black", strokeWidth=4).encode(
        y=alt.Y("v:Q", scale=field_scale, axis=axis), x=alt.value(x1), x2=alt.value(x2))


def month_strip(h, top, sep_len):
    txt = alt.Chart(month_df).mark_text(angle=270, align="right", baseline="middle", font="DejaVu Sans",
                                        fontSize=36, color="black").encode(
        x=X, y=alt.value(top), text="label:N")
    seps = alt.Chart(sep_df).mark_rule(color="black", strokeWidth=4).encode(
        x=X, y=alt.value(0), y2=alt.value(sep_len))
    return alt.layer(gray_rules(), seps, txt).properties(width=W, height=h)


# ---------------- panel a ----------------
YA = alt.Scale(domain=[0, 90], nice=False)
YT = alt.Scale(domain=[0, 45], nice=False)
ax_a = axis_left(ticks_a_left, "Precipitation (mm)", 40)
ax_t = alt.Axis(orient="right", values=ticks_a_right,
                title="Air, Soil temperature (°C) and soil water content (%VWC)",
                ticks=False, grid=False, domainWidth=4, domainColor="black", labelPadding=50,
                titlePadding=80, titleAngle=270, titleBaseline="top")

rain = alt.Chart(rain_df).mark_rule(color="black", strokeWidth=6, strokeCap="butt").encode(
    x=X, y=alt.Y("mm:Q", scale=YA, axis=ax_a), y2=alt.datum(0))
ref10 = alt.Chart(pd.DataFrame({"v": ref_line_mm})).mark_rule(color="black", strokeWidth=3).encode(
    y=alt.Y("v:Q", scale=YA, axis=ax_a))
base_a = alt.Chart(one).mark_rule(color="black", strokeWidth=4).encode(y=alt.value(H_A))
left_a = alt.layer(gray_rules(), rain, ref10, in_ticks(ticks_a_left, YA, ax_a), base_a)

air = alt.Chart(ser_df).mark_point(shape="triangle-up", filled=True, color=RED, size=470, opacity=1).encode(
    x=X, y=alt.Y("air:Q", scale=YT, axis=ax_t))
soil = alt.Chart(ser_df).mark_point(shape="circle", filled=False, color="black", strokeWidth=3.5, size=220,
                                    opacity=1).encode(x=X, y=alt.Y("soil:Q", scale=YT, axis=ax_t))
swc = alt.Chart(ser_df).mark_point(shape=XPATH, filled=False, color=BLUE, strokeWidth=3.5, size=500,
                                   opacity=1).encode(x=X, y=alt.Y("swc:Q", scale=YT, axis=ax_t))
right_a = alt.layer(air, soil, swc, in_ticks(ticks_a_right, YT, ax_t, right=True))

LY = round(47 * VK)
legend_a = alt.layer(
    leg_mark(397, LY, shape=BAR_SHAPE, filled=True, color="black", size=1300, opacity=1),
    leg_text(430, LY, "Rainfall"),
    leg_mark(680, LY, shape="triangle-up", filled=True, color=RED, size=470, opacity=1),
    leg_text(712, LY, "Air temperature"),
    leg_mark(1183, LY, shape="circle", filled=False, color="black", strokeWidth=3.5, size=220, opacity=1),
    leg_text(1210, LY, "Soil temperature"),
    leg_mark(1702, LY, shape=XPATH, filled=False, color=BLUE, strokeWidth=3.5, size=500, opacity=1),
    leg_text(1730, LY, "Soil water content"),
    leg_text(88, round(70 * VK), "a", size=72, bold=True),
)
panel_a = alt.layer(left_a, right_a, legend_a).resolve_scale(y="independent").properties(width=W, height=H_A)

# ---------------- panel b ----------------
YB = alt.Scale(domain=[0, 3.5], nice=False)
ax_b = axis_left(ticks_b, "VPD (kPa)", 40, fmt=".1~f")
vpd_pts = alt.Chart(ser_df).mark_point(shape="circle", filled=True, color="black", size=450, opacity=1).encode(
    x=X, y=alt.Y("vpd:Q", scale=YB, axis=ax_b))
base_b = alt.Chart(one).mark_rule(color="black", strokeWidth=4).encode(y=alt.value(H_B))
panel_b = alt.layer(gray_rules(), vpd_pts, in_ticks(ticks_b, YB, ax_b), base_b,
                    leg_text(112, round(58 * VK), "b", size=72, bold=True)).properties(width=W, height=H_B)

# ---------------- panel c ----------------
YC = alt.Scale(domain=[-100, 250], nice=False)
ax_c = axis_left(ticks_c, "Energy components (W m⁻²)", 40)
rn_pts = alt.Chart(ser_df).mark_point(shape="circle", filled=False, color="black", strokeWidth=3.5, size=360,
                                      opacity=1).encode(x=X, y=alt.Y("rn:Q", scale=YC, axis=ax_c))
h_pts = alt.Chart(ser_df).mark_point(shape="triangle-up", filled=False, color=RED, strokeWidth=4, size=340,
                                     opacity=1).encode(x=X, y=alt.Y("h:Q", scale=YC, axis=ax_c))
le_pts = alt.Chart(ser_df).mark_point(shape=PLUS, filled=False, color=BLUE, strokeWidth=4.5, size=400,
                                      opacity=1).encode(x=X, y=alt.Y("le:Q", scale=YC, axis=ax_c))
gs_pts = alt.Chart(ser_df).mark_point(shape=XPATH, filled=False, color=YEL, strokeWidth=4.5, size=400,
                                      opacity=1).encode(x=X, y=alt.Y("gs:Q", scale=YC, axis=ax_c))
base_c = alt.Chart(pd.DataFrame({"v": [-50]})).mark_rule(color="black", strokeWidth=5).encode(
    y=alt.Y("v:Q", scale=YC, axis=ax_c))
month_c = alt.Chart(month_df).transform_calculate(yy="-57").mark_text(
    angle=270, align="right", baseline="middle", font="DejaVu Sans", fontSize=36, color="black").encode(
    x=X, y=alt.Y("yy:Q", scale=YC, axis=ax_c), text="label:N")
year_c = alt.Chart(year_df).transform_calculate(yy="-103").mark_text(
    font="Lato", fontSize=40, color="black", baseline="middle").encode(
    x=X, y=alt.Y("yy:Q", scale=YC, axis=ax_c), text="label:N")
sep_c = alt.Chart(sep_df).transform_calculate(y1="-50", y2="-100").mark_rule(color="black", strokeWidth=4).encode(
    x=X, y=alt.Y("y1:Q", scale=YC, axis=ax_c), y2="y2:Q")
LC = round(26 * VK)
legend_c = alt.layer(
    leg_mark(418, LC, shape="circle", filled=False, color="black", strokeWidth=3.5, size=360, opacity=1),
    leg_text(452, LC, "Rn"),
    leg_mark(644, LC, shape="triangle-up", filled=False, color=RED, strokeWidth=4, size=340, opacity=1),
    leg_text(676, LC, "H"),
    leg_mark(838, LC, shape=PLUS, filled=False, color=BLUE, strokeWidth=4.5, size=400, opacity=1),
    leg_text(868, LC, "LE"),
    leg_mark(1048, LC, shape=XPATH, filled=False, color=YEL, strokeWidth=4.5, size=400, opacity=1),
    leg_text(1078, LC, "Gs"),
    leg_text(92, round(70 * VK), "c", size=72, bold=True),
)
panel_c = alt.layer(gray_rules(), rn_pts, h_pts, le_pts, gs_pts, in_ticks(ticks_c, YC, ax_c), base_c,
                    month_c, year_c, sep_c, legend_c).properties(width=W, height=H_C)

# ---------------- strips / spacers ----------------
sp1 = gray_rules().properties(width=W, height=H_SP1)
strip_a = month_strip(H_SA, round(26 * VK), round(148 * VK))
strip_b = month_strip(H_SB, round(26 * VK), round(148 * VK))
sp2 = alt.layer(
    gray_rules(),
    alt.Chart(sep_df).mark_rule(color="black", strokeWidth=4).encode(
        x=X, y=alt.value(0), y2=alt.value(round(52 * VK))),
).properties(width=W, height=H_SP2)

chart = alt.vconcat(
    band(H_BAND, extent=True), sp1, panel_a, strip_a, panel_b, strip_b, panel_c, sp2, band(H_BAND2),
    spacing=0, bounds="flush",
).properties(
    padding={"left": 0, "top": PAD_TOP, "right": 0, "bottom": 0}
).configure_view(stroke=None).configure_axis(
    labelFont="Lato", labelFontSize=40, labelColor="black",
    titleFont="DejaVu Sans", titleFontSize=38, titleFontWeight="bold", titleColor="black",
)

chart.save("out.html", embed_options={"renderer": "svg", "actions": False})
